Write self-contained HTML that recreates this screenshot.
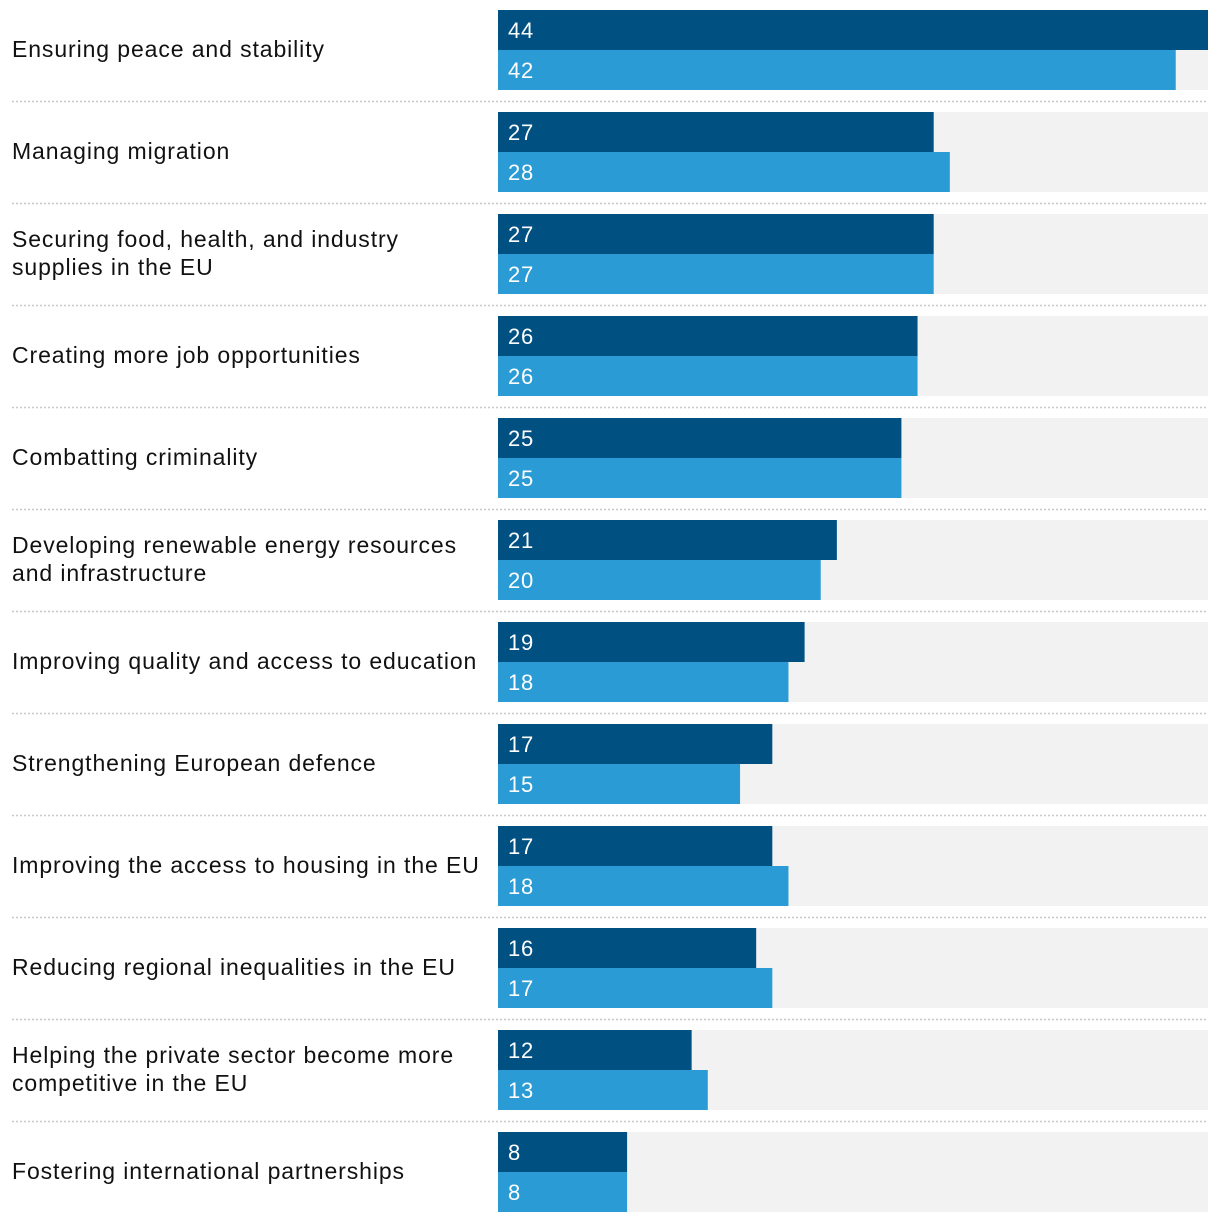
<!DOCTYPE html>
<html><head><meta charset="utf-8"><style>
body{margin:0;background:#fff;width:1220px;height:1222px;overflow:hidden;font-family:"Liberation Sans",sans-serif}
svg text{font-family:"Liberation Sans",sans-serif}
</style></head><body>
<svg id="chart" width="1220" height="1222" xmlns="http://www.w3.org/2000/svg"></svg>
<script>
const categories=[["Ensuring peace and stability"],["Managing migration"],["Securing food, health, and industry","supplies in the EU"],["Creating more job opportunities"],["Combatting criminality"],["Developing renewable energy resources","and infrastructure"],["Improving quality and access to education"],["Strengthening European defence"],["Improving the access to housing in the EU"],["Reducing regional inequalities in the EU"],["Helping the private sector become more","competitive in the EU"],["Fostering international partnerships"]];
const seriesA=[44,27,27,26,25,21,19,17,17,16,12,8];
const seriesB=[42,28,27,26,25,20,18,15,18,17,13,8];
const maxValue=44;
const svg=document.getElementById('chart');
const NS='http://www.w3.org/2000/svg';
const x0=498,x1=1208,top0=10,step=102,bh=40;
const xs=v=>(x1-x0)*v/maxValue;
function mk(t,a){const e=document.createElementNS(NS,t);for(const k in a)e.setAttribute(k,a[k]);svg.appendChild(e);return e;}
categories.forEach((c,i)=>{
  const y=top0+i*step;
  const tr=mk('rect',{x:x0,y:y,width:x1-x0,height:bh*2,fill:'#f2f2f2'});
  
  
  [[seriesA[i],'#005082',y,'bar-a'],[seriesB[i],'#2a9bd4',y+bh,'bar-b']].forEach(([v,col,yy,nm])=>{
    const r=mk('rect',{x:x0,y:yy,width:xs(v),height:bh,fill:col});
    
    
    const t=mk('text',{x:x0+10,y:yy+28,fill:'#fff','font-size':22,'letter-spacing':0.8});
    t.textContent=v;
    
    
  });
  const mid=y+bh;
  c.forEach((line,j)=>{
    const t=mk('text',{x:12,y:mid+7+(j-(c.length-1)/2)*28,fill:'#111','font-size':23,'letter-spacing':0.9});
    t.textContent=line;
    
    
  });
  if(i<categories.length-1){
    const l=mk('line',{x1:12,x2:x1,y1:y+91.5,y2:y+91.5,stroke:'#c8c8c8','stroke-width':1.5,'stroke-dasharray':'2 2'});
    
    
  }
});
</script>
</body></html>
